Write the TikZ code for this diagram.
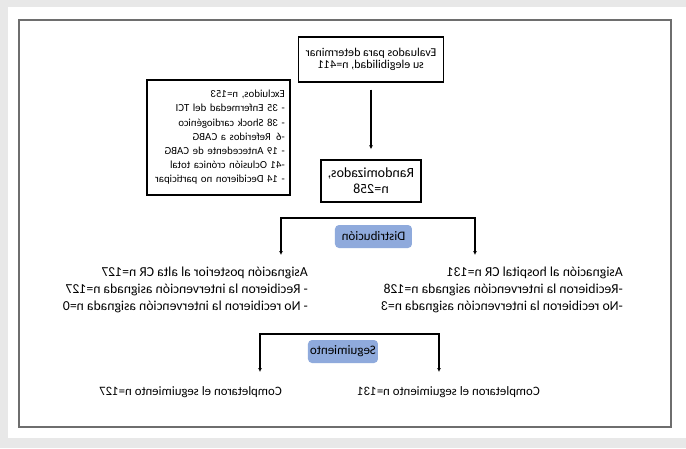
\documentclass[tikz,border=0pt]{standalone}
\usepackage{fontspec}
\setmainfont{Carlito}
\usetikzlibrary{arrows.meta}
\definecolor{pagegray}{HTML}{E8E8E8}
\definecolor{framegray}{HTML}{6E6E6E}
\definecolor{tagblue}{HTML}{8FAADC}
\tikzset{
  box/.style={draw, line width=1.4pt, align=center, inner sep=0pt},
  tag/.style={fill=tagblue, rounded corners=4pt, inner sep=0pt, font=\fontsize{13}{15}\selectfont},
  txt/.style={align=left, inner sep=0pt, font=\fontsize{13.7}{17}\selectfont},
  flow/.style={-{Latex[length=4pt,width=4pt]}, line width=1.1pt},
  twoflow/.style={{Latex[length=4pt,width=4pt]}-{Latex[length=4pt,width=4pt]}, line width=1.1pt}
}
\begin{document}
\begin{tikzpicture}[x=1pt, y=-1pt, xscale=-1, transform shape]
% page and frame
\fill[pagegray] (0,0) rectangle (686,448);
\fill[white] (0,7) rectangle (678,438);
\draw[framegray, line width=2pt] (15,20) rectangle (667,427);
% boxes
\node[box, minimum width=145pt, minimum height=45pt, font=\fontsize{12}{12.7}\selectfont] (eval) at (315,59.5)
  {Evaluados para determinar\\su elegibilidad, n=411};
\node[box, minimum width=143pt, minimum height=115pt, text width=133pt, inner sep=5pt, align=left,
  font=\fontsize{10.8}{14.2}\selectfont] (excl) at (467.5,137.5)
  {Excluidos, n=153\\- 35 Enfermedad del TCI\\- 38 Shock cardiogénico\\-6\enspace Referidos a CABG\\- 19 Antecedente de CABG\\-41 Oclusión crónica total\\- 14 Decidieron no participar};
\node[box, minimum width=100pt, minimum height=42pt, font=\fontsize{14}{16}\selectfont] (rand) at (315,181)
  {Randomizados,\\n=258};
\draw[flow, shorten <=7pt, shorten >=10pt] (eval.south) -- (eval.south |- rand.north);
% distribution
\node[tag, minimum width=77pt, minimum height=23pt] (dist) at (312.5,236.5) {Distribución};
\coordinate (d1) at (211,255);
\coordinate (d2) at (405,255);
\draw[twoflow] (d1) |- (312,218) -| (d2);
\node[txt, anchor=north west] (hosp) at (63,267)
  {Asignación al hospital CR n=131\\-Recibieron la intervención asignada n=128\\-No recibieron la intervención asignada n=3};
\node[txt, anchor=north west] (alta) at (378,267)
  {Asignación posterior al alta CR n=127\\- Recibieron la intervención asignada n=127\\- No recibieron la intervención asignada n=0};
% follow-up
\node[tag, minimum width=70pt, minimum height=23pt] (segu) at (343,351.5) {Seguimiento};
\coordinate (s1) at (247,372);
\coordinate (s2) at (426,372);
\draw[twoflow] (s1) |- (336,334) -| (s2);
\node[txt, anchor=west, font=\fontsize{12.8}{15}\selectfont] (comp1) at (146,392) {Completaron el seguimiento n=131};
\node[txt, anchor=west, font=\fontsize{12.8}{15}\selectfont] (comp2) at (404,392) {Completaron el seguimiento n=127};
\end{tikzpicture}
\end{document}
